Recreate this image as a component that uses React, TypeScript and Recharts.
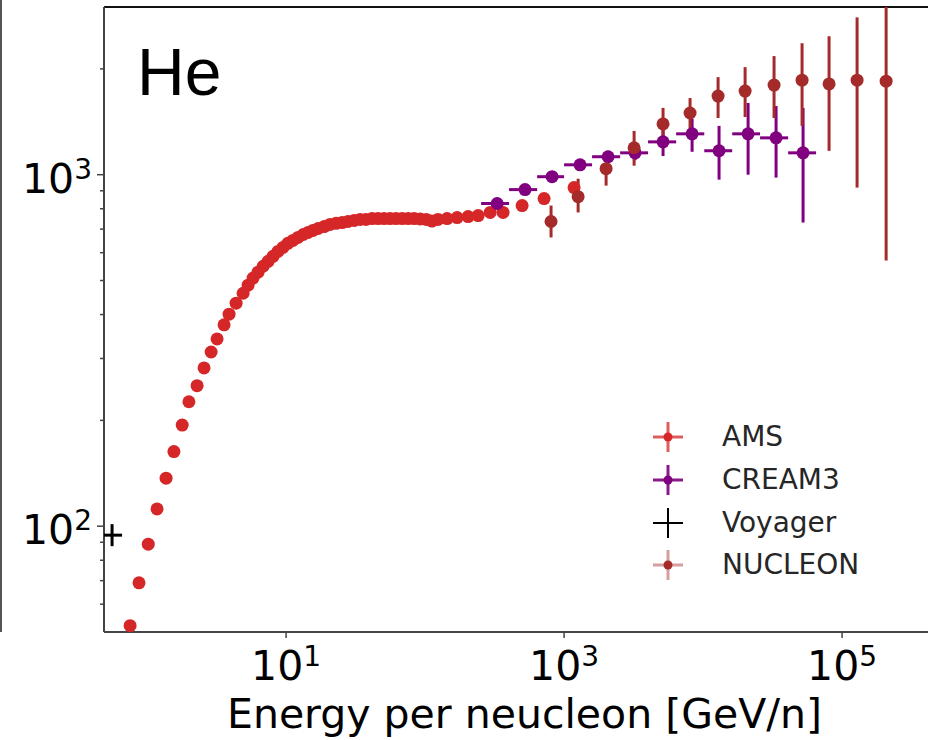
import React from 'react';
import { ScatterChart, Scatter, XAxis, YAxis, ErrorBar, Legend, ReferenceLine } from 'recharts';

// AMS helium flux (E^2.7 weighted)
const amsEnergy = [
  0.755, 0.875, 1.02, 1.18, 1.37, 1.56, 1.79, 2.0, 2.29, 2.57, 2.89, 3.19, 3.58, 3.89, 4.37, 4.91,
  5.33, 5.79, 6.29, 6.84, 7.43, 8.06, 8.75, 9.51, 10.3, 11.2, 12.2, 13.3, 14.4, 15.6, 17.0, 18.8,
  20.7, 22.9, 25.3, 27.9, 30.9, 34.1, 37.6, 41.6, 45.9, 50.7, 56.0, 61.8, 68.4, 75.5, 83.4, 92.1,
  102, 112, 124, 144, 170, 204, 241, 294, 364, 499, 718, 1180,
];
const amsFlux = [
  52.1, 69.0, 88.9, 112, 137, 163, 194, 226, 251, 282, 313, 341, 374, 401, 431, 460,
  485, 508, 528, 549, 567, 586, 605, 621, 638, 650, 663, 676, 685, 694, 703, 712,
  722, 727, 731, 736, 741, 746, 746, 750, 750, 750, 750, 750, 750, 750, 750, 748,
  746, 738, 746, 750, 755, 760, 765, 781, 781, 817, 855, 919,
];

// CREAM3
const creamEnergy = [330, 524, 820, 1303, 2073, 3243, 5152, 8336, 13030, 21080, 33500, 52400];
const creamBinLow = [253, 402, 640, 1000, 1590, 2530, 4020, 6400, 10200, 16200, 25700, 40900];
const creamBinHigh = [402, 640, 1000, 1590, 2530, 4020, 6400, 10200, 16200, 25700, 40900, 65000];
const creamFlux = [828, 907, 987, 1067, 1125, 1154, 1240, 1307, 1170, 1307, 1273, 1154];
const creamFluxLow = [805, 880, 955, 1030, 1085, 1100, 1130, 1162, 968, 1000, 981, 731];
const creamFluxHigh = [851, 935, 1020, 1105, 1170, 1215, 1390, 1441, 1377, 1600, 1568, 1549];

// Voyager
const voyagerEnergy = [0.56];
const voyagerFlux = [94.3];

// NUCLEON
const nucleonEnergy = [806, 1262, 2006, 3190, 5152, 8060, 12820, 20060, 32400, 51530, 80600, 128200, 207400];
const nucleonFlux = [736, 866, 1040, 1193, 1395, 1498, 1674, 1730, 1799, 1858, 1812, 1858, 1845];
const nucleonFluxLow = [663, 781, 931, 1061, 1248, 1349, 1450, 1459, 1450, 1377, 1169, 919, 570];
const nucleonFluxHigh = [817, 974, 1081, 1332, 1549, 1652, 1895, 2023, 2175, 2366, 2477, 2803, 3000];

const xTicks = [10, 1000, 100000];
const yMajorTicks = [100, 1000];
const yTicks = [60, 70, 80, 90, 100, 200, 300, 400, 500, 600, 700, 800, 900, 1000, 2000];

const RED = '#d62728';
const PURPLE = '#800080';
const BROWN = '#a52a2a';
const FONT = '"DejaVu Sans", sans-serif';

const legendItems = [
  { name: 'AMS', color: RED, lineOpacity: 0.75, dot: true },
  { name: 'CREAM3', color: PURPLE, lineOpacity: 0.9, dot: true },
  { name: 'Voyager', color: '#000', lineOpacity: 1, dot: false },
  { name: 'NUCLEON', color: BROWN, lineOpacity: 0.45, dot: true },
];

const sup = (v: number) => String(Math.round(Math.log10(v)));

function XTick({ x, y, payload }: any) {
  return (
    <g>
      <line x1={x} x2={x} y1={y} y2={y + 6} stroke="#444" strokeWidth={1.5} />
      <text x={x} y={y + 48} textAnchor="middle" fontFamily={FONT} fontSize={41} fill="#000">
        10<tspan dy={-14} fontSize={28}>{sup(payload.value)}</tspan>
      </text>
    </g>
  );
}

function YTick({ x, y, payload }: any) {
  const major = yMajorTicks.includes(payload.value);
  return (
    <g>
      <line x1={x - (major ? 7 : 4)} x2={x} y1={y} y2={y} stroke="#444" strokeWidth={1.5} />
      {major && (
        <text x={x - 12} y={y + 18} textAnchor="end" fontFamily={FONT} fontSize={41} fill="#000">
          10<tspan dy={-14} fontSize={28}>{sup(payload.value)}</tspan>
        </text>
      )}
    </g>
  );
}

function XTitle({ viewBox }: any) {
  const { x, y, width } = viewBox;
  return (
    <text x={x + width / 2} y={y + 96} textAnchor="middle" fontFamily={FONT} fontSize={41} fill="#000">
      Energy per neucleon [GeV/n]
    </text>
  );
}

function LegendBox() {
  return (
    <div style={{ fontFamily: FONT, fontSize: 28, color: '#262626' }}>
      {legendItems.map((item) => (
        <div key={item.name} style={{ display: 'flex', alignItems: 'center', height: 42.7 }}>
          <svg width={30} height={30}>
            <g stroke={item.color} strokeOpacity={item.lineOpacity} strokeWidth={item.dot ? 3 : 2}>
              <line x1={0} x2={30} y1={15} y2={15} />
              <line x1={15} x2={15} y1={0} y2={30} />
            </g>
            {item.dot && <circle cx={15} cy={15} r={4.5} fill={item.color} />}
          </svg>
          <span style={{ marginLeft: 39, lineHeight: 1 }}>{item.name}</span>
        </div>
      ))}
    </div>
  );
}

const dot = (color: string) => (p: any) => <circle cx={p.cx} cy={p.cy} r={6.5} fill={color} />;
const plus = (p: any) => (
  <g stroke="#000" strokeWidth={3}>
    <line x1={p.cx - 10} x2={p.cx + 10} y1={p.cy} y2={p.cy} />
    <line x1={p.cx} x2={p.cx} y1={p.cy - 11} y2={p.cy + 11} />
  </g>
);

export default function App() {
  const ams = amsEnergy.map((x, i) => ({ x, y: amsFlux[i] }));
  const cream = creamEnergy.map((x, i) => ({
    x,
    y: creamFlux[i],
    ex: [x - creamBinLow[i], creamBinHigh[i] - x],
    ey: [creamFlux[i] - creamFluxLow[i], creamFluxHigh[i] - creamFlux[i]],
  }));
  const voyager = voyagerEnergy.map((x, i) => ({ x, y: voyagerFlux[i] }));
  const nucleon = nucleonEnergy.map((x, i) => ({
    x,
    y: nucleonFlux[i],
    ey: [nucleonFlux[i] - nucleonFluxLow[i], nucleonFluxHigh[i] - nucleonFlux[i]],
  }));

  return (
    <div style={{ position: 'absolute', left: 0, top: 0, width: 928, height: 740, overflow: 'hidden', background: '#fff' }}>
      {/* edge of the neighbouring panel */}
      <div style={{ position: 'absolute', left: 0, top: 0, width: 2, height: 632, background: '#555' }} />
      <ScatterChart width={945} height={740} margin={{ top: 7, right: 0, bottom: 0, left: 0 }}>
        <XAxis
          type="number"
          dataKey="x"
          scale="log"
          domain={[0.49, 550000]}
          allowDataOverflow
          ticks={xTicks}
          interval={0}
          tick={<XTick />}
          tickLine={false}
          tickSize={0}
          tickMargin={0}
          height={108}
          axisLine={{ stroke: '#444', strokeWidth: 2 }}
          label={<XTitle />}
        />
        <YAxis
          type="number"
          dataKey="y"
          scale="log"
          domain={[50, 3000]}
          allowDataOverflow
          ticks={yTicks}
          interval={0}
          tick={<YTick />}
          tickLine={false}
          tickSize={0}
          tickMargin={0}
          width={104}
          axisLine={{ stroke: '#444', strokeWidth: 2 }}
        />
        <ReferenceLine y={3000} stroke="#111" strokeWidth={2} />
        <Scatter name="AMS" data={ams} fill={RED} shape={dot(RED)} isAnimationActive={false} />
        <Scatter name="CREAM3" data={cream} fill={PURPLE} shape={dot(PURPLE)} isAnimationActive={false}>
          <ErrorBar dataKey="ex" direction="x" width={0} stroke={PURPLE} strokeWidth={3} />
          <ErrorBar dataKey="ey" direction="y" width={0} stroke={PURPLE} strokeWidth={3} />
        </Scatter>
        <Scatter name="Voyager" data={voyager} fill="#000" shape={plus} isAnimationActive={false} />
        <Scatter name="NUCLEON" data={nucleon} fill={BROWN} shape={dot(BROWN)} isAnimationActive={false}>
          <ErrorBar dataKey="ey" direction="y" width={0} stroke={BROWN} strokeWidth={3} />
        </Scatter>
        <Legend
          layout="vertical"
          align="center"
          verticalAlign="middle"
          content={<LegendBox />}
          wrapperStyle={{ left: 653, top: 416, width: 260, height: 'auto' }}
        />
      </ScatterChart>
      <svg width={928} height={740} style={{ position: 'absolute', left: 0, top: 0, pointerEvents: 'none' }}>
        <text x={137} y={95} fontFamily='"Liberation Sans", Arial, sans-serif' fontSize={66} fill="#000">
          He
        </text>
      </svg>
    </div>
  );
}
